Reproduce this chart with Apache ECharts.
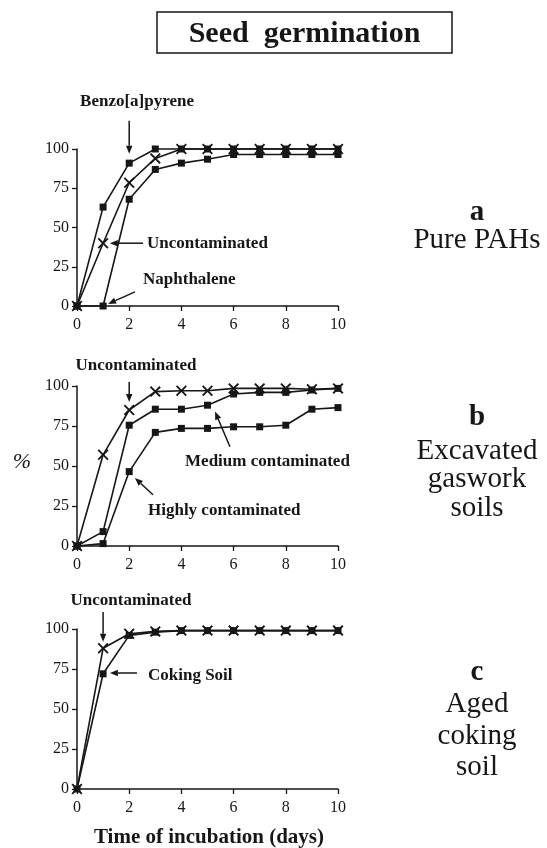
<!DOCTYPE html>
<html><head><meta charset="utf-8">
<script src="https://cdn.jsdelivr.net/npm/echarts@6/dist/echarts.min.js"></script>
<style>html,body{margin:0;padding:0;background:#fff}#c{width:547px;height:848px}</style>
</head><body><div id="c"></div>
<script>
// ---- data ----
const days = [0,1,2,3,4,5,6,7,8,9,10];
const yTicks = [0,25,50,75,100];
const xTicks = [0,2,4,6,8,10];
// panel a : pure PAHs
const aBenzo  = [0,63,91,100,100,100,100,100,100,100,100];
const aUncont = [0,40,78.5,94,100,100,100,100,100,100,100];
const aNaph   = [0,0,68,87,91,93.5,96.5,96.5,96.5,96.5,96.5];
// panel b : excavated gaswork soils
const bUncont = [0,57,85,96.5,97,97,98.5,98.5,98.5,98,98.5];
const bMedium = [0,9,75.5,85.5,85.5,88,95,96,96,97.5,98.5];
const bHigh   = [0,1.5,46.5,71,73.5,73.5,74.5,74.5,75.5,85.5,86.5];
// panel c : aged coking soil
const cUncont = [0,88,97,98.5,99,99,99,99,99,99,99];
const cCoking = [0,72,96,98,99,99,99,99,99,99,99];

const SERIF = '"Liberation Serif","DejaVu Serif",serif';
const INK = '#161616';
const CROSS = 'path://M0,1.2L1.2,0L5,3.8L8.8,0L10,1.2L6.2,5L10,8.8L8.8,10L5,6.2L1.2,10L0,8.8L3.8,5Z';

const chart = echarts.init(document.getElementById('c'), null, {renderer:'canvas'});

const grids = [
  {left:77, top:149, width:261, height:157},
  {left:77, top:386, width:261, height:160},
  {left:77, top:629, width:261, height:160}
];
function xAx(i){return {type:'value', gridIndex:i, min:xTicks[0], max:xTicks[xTicks.length-1], interval:2,
  axisLine:{lineStyle:{color:INK,width:1.5}}, axisTick:{length:5,lineStyle:{color:INK,width:1.3}},
  splitLine:{show:false}, axisLabel:{color:INK, fontFamily:SERIF, fontSize:16, margin:11}};}
function yAx(i){return {type:'value', gridIndex:i, min:yTicks[0], max:yTicks[yTicks.length-1], interval:25,
  axisLine:{show:true,lineStyle:{color:INK,width:1.5}}, axisTick:{show:true,length:5,lineStyle:{color:INK,width:1.3}},
  splitLine:{show:false}, axisLabel:{color:INK, fontFamily:SERIF, fontSize:16, margin:8}};}
function ser(i, name, vals, sym, size){
  return {type:'line', name, xAxisIndex:i, yAxisIndex:i, data:days.map((d,k)=>[d,vals[k]]),
    symbol:sym, symbolSize:size, showAllSymbol:true, clip:false,
    lineStyle:{color:INK,width:1.6}, itemStyle:{color:INK}, emphasis:{disabled:true}, animation:false};
}
chart.setOption({
  animation:false,
  grid:grids,
  xAxis:[xAx(0),xAx(1),xAx(2)],
  yAxis:[yAx(0),yAx(1),yAx(2)],
  series:[
    ser(0,'Benzo[a]pyrene',aBenzo,'rect',7),
    ser(0,'Uncontaminated',aUncont,CROSS,11),
    ser(0,'Naphthalene',aNaph,'rect',7),
    ser(1,'Uncontaminated',bUncont,CROSS,11),
    ser(1,'Medium contaminated',bMedium,'rect',7),
    ser(1,'Highly contaminated',bHigh,'rect',7),
    ser(2,'Uncontaminated',cUncont,CROSS,11),
    ser(2,'Coking Soil',cCoking,'rect',7)
  ]
});

// ---- annotations (positions in data space, converted by the library) ----
function px(g,p){return chart.convertToPixel({gridIndex:g}, p);}
function arrow(g, from, to){
  const p1=px(g,from), p2=px(g,to);
  const dx=p2[0]-p1[0], dy=p2[1]-p1[1], L=Math.hypot(dx,dy), ux=dx/L, uy=dy/L;
  const hl=8, hw=3.2, bx=p2[0]-ux*hl, by=p2[1]-uy*hl;
  return [
    {type:'line', silent:true, shape:{x1:p1[0],y1:p1[1],x2:bx,y2:by}, style:{stroke:INK,lineWidth:1.5}},
    {type:'polygon', silent:true, shape:{points:[[p2[0],p2[1]],[bx-uy*hw,by+ux*hw],[bx+uy*hw,by-ux*hw]]}, style:{fill:INK}}
  ];
}
function txt(x,y,text,font,align){
  return {type:'text', silent:true, x, y, style:{text, font, fill:INK, align:align||'center', textAlign:align||'center',
    verticalAlign:'middle', textVerticalAlign:'middle'}};
}
function dtxt(g,p,text,align){const q=px(g,p);return txt(q[0],q[1],text,'bold 17px '+SERIF,align);}

const G = [];
// panel a
G.push(dtxt(0,[2.3,130],'Benzo[a]pyrene'));
G.push(...arrow(0,[2,118],[2,97]));
G.push(dtxt(0,[2.68,40],'Uncontaminated','left'));
G.push(...arrow(0,[2.53,40],[1.26,40]));
G.push(dtxt(0,[2.53,16.6],'Naphthalene','left'));
G.push(...arrow(0,[2.22,9],[1.19,1.3]));
// panel b
G.push(dtxt(1,[2.26,113],'Uncontaminated'));
G.push(...arrow(1,[2,102.5],[2,90]));
G.push(dtxt(1,[4.14,53],'Medium contaminated','left'));
G.push(...arrow(1,[5.86,62],[5.29,84]));
G.push(dtxt(1,[2.72,22],'Highly contaminated','left'));
G.push(...arrow(1,[2.91,32],[2.22,42.5]));
// panel c
G.push(dtxt(2,[2.07,117.5],'Uncontaminated'));
G.push(...arrow(2,[1,110.6],[1,92]));
G.push(dtxt(2,[2.72,70.6],'Coking Soil','left'));
G.push(...arrow(2,[2.3,72.5],[1.26,72.5]));

// title box
G.push({type:'rect', silent:true, shape:{x:157,y:12,width:295,height:41}, style:{fill:'#fff',stroke:INK,lineWidth:1.5}});
G.push(txt(304.5,34,'Seed  germination','bold 30px '+SERIF));
// side labels
const R = 'normal 29px '+SERIF, RB = 'bold 29px '+SERIF;
G.push(txt(477,213,'a',RB)); G.push(txt(477,240,'Pure PAHs',R));
G.push(txt(477,418,'b',RB)); G.push(txt(477,451,'Excavated',R)); G.push(txt(477,479,'gaswork',R)); G.push(txt(477,508,'soils',R));
G.push(txt(477,673,'c',RB)); G.push(txt(477,704,'Aged',R)); G.push(txt(477,736,'coking',R)); G.push(txt(477,767,'soil',R));
// axis titles
G.push(txt(22,462,'%','italic 22px '+SERIF));
G.push(txt(209,838,'Time of incubation (days)','bold 21px '+SERIF));

chart.setOption({graphic:G});
</script>
</body></html>
